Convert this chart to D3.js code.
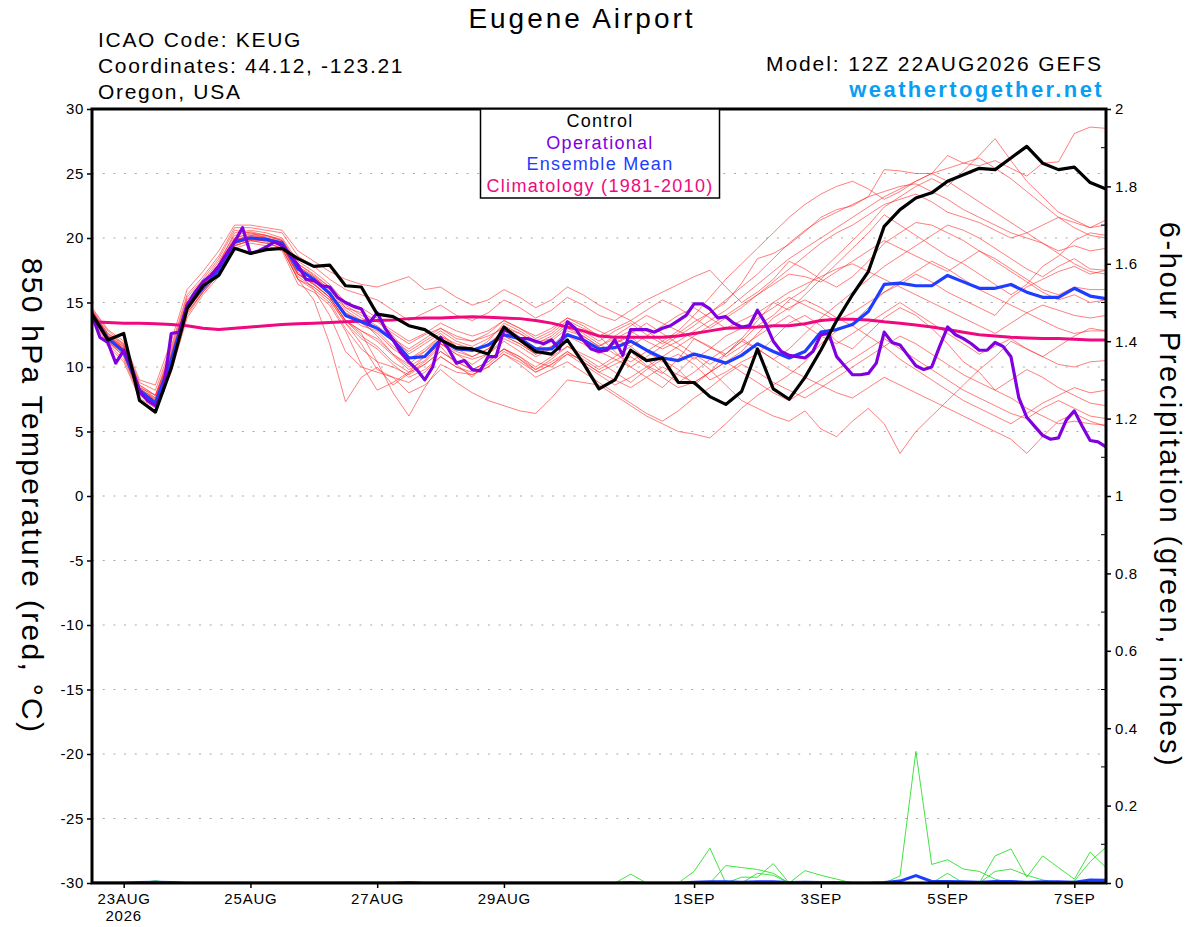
<!DOCTYPE html>
<html>
<head>
<meta charset="utf-8">
<script src="https://cdn.jsdelivr.net/npm/d3@7"></script>
<style>
  body { margin: 0; background: #fff; }
  svg text { font-family: "Liberation Sans", Arial, Helvetica, sans-serif; }
</style>
</head>
<body>
<div id="chart"></div>
<script>
// ---- Axis ticks ----
const tempTicks = [-30, -25, -20, -15, -10, -5, 0, 5, 10, 15, 20, 25, 30];
const gridTicks = [-25, -20, -15, -10, -5, 0, 5, 10, 15, 20, 25];
const precipTicks = [0, 0.2, 0.4, 0.6, 0.8, 1, 1.2, 1.4, 1.6, 1.8, 2];
const precipMinorTicks = [0.1, 0.3, 0.5, 0.7, 0.9, 1.1, 1.3, 1.5, 1.7, 1.9];
const dayTicks = ['2026-08-23', '2026-08-25', '2026-08-27', '2026-08-29',
                  '2026-09-01', '2026-09-03', '2026-09-05', '2026-09-07'];

// ---- 850 hPa temperature, 6-hourly from 12Z 22AUG (65 steps) ----
const control = [
  14.1, 12.1, 12.6, 7.4, 6.5, 9.9, 14.5, 16.3, 17.1, 19.2,
  18.8, 19.1, 19.2, 18.4, 17.8, 17.9, 16.3, 16.2, 14.1, 13.9,
  13.2, 12.9, 12.1, 11.5, 11.4, 11.0, 13.1, 12.1, 11.2, 11.0,
  12.1, 10.3, 8.3, 9.0, 11.3, 10.5, 10.7, 8.8, 8.8, 7.7,
  7.1, 8.1, 11.4, 8.3, 7.5, 9.2, 11.3, 13.6, 15.6, 17.4,
  20.9, 22.2, 23.1, 23.5, 24.4, 24.9, 25.4, 25.3, 26.2, 27.1,
  25.8, 25.3, 25.5, 24.3, 23.8
];

const ensembleMean = [
  14.1, 12.2, 11.2, 8.2, 7.2, 10.5, 14.7, 16.1, 17.5, 19.7,
  20.0, 19.9, 19.6, 17.6, 16.8, 15.7, 14.0, 13.5, 13.0, 12.1,
  10.7, 10.8, 12.1, 11.4, 11.3, 11.7, 12.5, 12.2, 11.4, 11.4,
  12.5, 12.1, 11.4, 11.5, 12.0, 11.3, 10.7, 10.5, 11.0, 10.7,
  10.3, 10.9, 11.8, 11.2, 10.7, 11.2, 12.7, 12.9, 13.3, 14.3,
  16.4, 16.5, 16.3, 16.3, 17.1, 16.6, 16.1, 16.1, 16.4, 15.8,
  15.4, 15.4, 16.1, 15.5, 15.3
];

const climatology = [
  13.5, 13.45, 13.4, 13.4, 13.35, 13.3, 13.2, 13.0, 12.9, 13.0,
  13.1, 13.2, 13.3, 13.35, 13.4, 13.45, 13.5, 13.55, 13.6, 13.65,
  13.75, 13.8, 13.8, 13.85, 13.9, 13.85, 13.8, 13.75, 13.6, 13.4,
  13.1, 12.8, 12.4, 12.3, 12.3, 12.3, 12.3, 12.4, 12.6, 12.8,
  13.0, 13.05, 13.1, 13.2, 13.2, 13.35, 13.6, 13.7, 13.7, 13.65,
  13.5, 13.4, 13.25, 13.1, 12.9, 12.7, 12.5, 12.4, 12.3, 12.25,
  12.2, 12.2, 12.15, 12.1, 12.1
];

// operational run is 3-hourly (129 steps)
const operational = [
  14.0, 12.3, 11.9, 10.3, 11.3, 10.0, 8.1, 7.4, 7.0, 8.2,
  12.6, 12.7, 14.8, 15.8, 16.6, 17.1, 17.8, 18.8, 19.7, 20.8,
  18.8, 19.0, 19.3, 19.7, 19.4, 18.7, 17.9, 16.8, 16.7, 16.3,
  16.2, 15.4, 15.0, 14.7, 14.5, 13.4, 14.2, 13.0, 12.1, 11.1,
  10.4, 9.8, 9.0, 10.0, 12.3, 11.4, 10.3, 10.5, 9.8, 9.7,
  10.8, 10.8, 12.9, 12.6, 12.2, 12.2, 12.0, 11.8, 12.1, 11.4,
  13.5, 13.0, 12.1, 11.4, 11.2, 11.3, 12.1, 10.9, 12.9, 12.9,
  12.9, 12.7, 13.0, 13.2, 13.6, 14.0, 14.9, 14.9, 14.5, 13.8,
  13.9, 13.4, 13.1, 13.2, 14.4, 13.4, 12.0, 11.2, 10.9, 10.8,
  10.7, 11.2, 12.5, 12.6, 10.8, 10.1, 9.4, 9.4, 9.5, 10.3,
  12.7, 11.9, 11.7, 10.9, 10.1, 9.8, 10.0, 11.6, 13.1, 12.5,
  12.2, 11.8, 11.3, 11.3, 11.9, 11.6, 10.8, 7.6, 6.1, 5.4,
  4.7, 4.4, 4.5, 5.9, 6.6, 5.4, 4.3, 4.2, 3.8
];

// ensemble members (6-hourly, 65 steps each)
const member01 = [
  14.4, 12.6, 11.8, 8.3, 7.6, 11.2, 15.2, 16.6, 18.2, 20.2, 20.5, 20.2, 19.8, 18.0, 17.1, 16.2,
  14.8, 14.0, 13.5, 12.6, 11.8, 12.5, 13.0, 12.2, 12.0, 12.4, 13.0, 12.6, 11.9, 12.2, 13.2, 12.8,
  12.0, 12.8, 13.4, 12.5, 11.8, 12.6, 13.5, 14.2, 15.0, 16.5, 18.4, 18.8, 19.5, 20.5, 21.6, 22.2,
  22.5, 23.2, 25.3, 25.2, 25.0, 25.0, 26.4, 25.8, 25.6, 26.0, 25.4, 24.8, 25.8, 25.9, 28.1, 28.6, 28.5
];
const member02 = [
  14.2, 12.0, 11.0, 8.0, 7.0, 10.2, 14.4, 16.0, 17.6, 19.8, 20.2, 20.0, 19.5, 17.2, 16.5, 15.4,
  13.6, 12.8, 12.0, 10.9, 9.8, 10.5, 11.8, 11.0, 10.6, 11.0, 12.0, 11.2, 10.4, 10.0, 11.0, 10.6,
  9.8, 10.5, 11.2, 10.1, 9.5, 10.6, 12.2, 11.5, 11.0, 12.0, 13.2, 14.0, 15.2, 16.0, 17.4, 18.6,
  19.8, 21.0, 22.4, 23.2, 24.0, 24.6, 24.0, 25.2, 26.4, 27.7, 26.0, 24.4, 23.2, 22.0, 21.4, 20.8, 21.4
];
const member03 = [
  14.0, 11.8, 10.6, 7.8, 7.0, 9.8, 14.0, 15.8, 17.2, 19.5, 20.0, 19.7, 19.2, 16.8, 15.2, 11.8,
  7.3, 9.2, 10.0, 8.6, 9.5, 10.4, 11.6, 10.2, 9.2, 10.6, 11.4, 10.8, 9.8, 10.6, 11.6, 11.0,
  10.4, 9.6, 8.8, 9.8, 10.6, 9.8, 8.6, 9.6, 11.0, 12.2, 13.6, 15.0, 14.4, 15.6, 16.8, 18.0,
  19.2, 20.4, 21.8, 21.0, 20.2, 19.4, 18.6, 18.0, 17.2, 16.4, 15.6, 16.4, 17.8, 18.6, 19.8, 20.4, 20.2
];
const member04 = [
  14.3, 12.3, 11.4, 8.4, 7.4, 10.6, 14.8, 16.2, 17.8, 19.9, 20.1, 19.8, 19.6, 17.6, 16.8, 15.8,
  14.2, 13.6, 12.4, 11.0, 10.2, 11.2, 12.4, 11.8, 11.4, 11.6, 12.8, 12.0, 11.0, 11.4, 12.6, 12.0,
  11.2, 11.8, 12.4, 11.2, 10.4, 11.0, 10.2, 9.0, 9.6, 10.4, 11.0, 12.2, 13.4, 14.0, 13.2, 12.0,
  11.4, 12.6, 13.8, 14.6, 14.0, 13.0, 11.8, 10.4, 9.6, 8.2, 7.6, 6.8, 6.2, 5.6, 5.8, 5.6, 5.5
];
const member05 = [
  14.1, 12.4, 11.6, 8.6, 7.8, 11.0, 15.0, 16.4, 18.0, 20.4, 20.6, 20.4, 20.0, 18.2, 17.4, 16.4,
  15.0, 14.6, 13.8, 12.4, 11.0, 11.8, 12.6, 11.6, 11.2, 12.0, 13.4, 12.8, 12.0, 12.6, 13.6, 13.0,
  12.4, 11.2, 10.0, 9.2, 8.4, 9.6, 10.8, 9.8, 8.6, 7.4, 6.8, 6.2, 5.8, 6.6, 5.2, 4.6,
  5.8, 6.8, 5.6, 3.3, 5.0, 6.2, 7.4, 8.6, 9.8, 10.8, 12.0, 11.4, 10.8, 11.6, 12.4, 13.0, 12.8
];
const member06 = [
  14.0, 12.1, 11.2, 8.1, 7.2, 10.4, 14.6, 16.2, 17.6, 19.6, 19.9, 19.9, 19.7, 17.4, 16.0, 14.0,
  11.2, 10.0, 9.6, 9.2, 8.0, 8.6, 9.8, 8.8, 8.0, 7.4, 7.0, 6.6, 6.4, 7.6, 9.0, 8.8,
  8.6, 7.8, 7.0, 6.2, 5.6, 5.0, 4.8, 4.5, 5.6, 6.8, 7.8, 8.6, 9.4, 10.4, 11.8, 12.8,
  13.4, 14.6, 15.8, 16.4, 17.2, 16.6, 15.8, 15.2, 14.6, 14.0, 15.4, 16.2, 16.8, 17.4, 17.8, 17.2, 17.5
];
const member07 = [
  14.5, 12.8, 11.8, 8.8, 8.2, 11.6, 15.6, 17.0, 18.6, 20.8, 20.8, 20.6, 20.4, 18.6, 17.8, 16.8,
  16.0, 15.6, 15.2, 14.4, 13.6, 14.2, 14.8, 14.0, 13.6, 14.2, 15.2, 14.6, 13.8, 14.4, 15.4, 14.8,
  14.0, 13.6, 14.4, 15.2, 15.8, 16.4, 17.0, 17.5, 16.2, 15.0, 15.8, 16.8, 18.2, 17.6, 16.8, 16.2,
  17.0, 18.2, 19.6, 20.4, 21.2, 21.0, 20.4, 19.8, 19.0, 18.2, 17.4, 16.6, 15.8, 15.2, 15.6, 15.0, 15.2
];
const member08 = [
  14.6, 12.9, 12.0, 9.0, 8.6, 12.0, 16.0, 17.4, 19.0, 21.0, 21.0, 20.8, 20.6, 19.0, 18.2, 17.4,
  16.8, 16.4, 16.2, 16.6, 17.0, 16.0, 16.2, 15.4, 14.8, 15.2, 16.0, 15.4, 14.6, 15.2, 16.2, 15.6,
  14.8, 14.2, 13.6, 14.4, 15.2, 14.6, 13.8, 13.0, 13.8, 14.6, 15.6, 16.6, 17.6, 18.6, 19.6, 20.4,
  21.0, 21.8, 22.6, 23.0, 23.4, 22.8, 22.0, 21.6, 21.2, 20.6, 20.0, 20.4, 21.0, 21.6, 21.2, 20.8, 21.0
];
const member09 = [
  14.2, 12.2, 11.3, 8.2, 7.4, 10.6, 14.6, 16.0, 17.4, 19.4, 19.8, 19.8, 19.4, 17.0, 16.2, 15.2,
  13.4, 11.8, 9.8, 9.2, 8.8, 9.6, 10.8, 10.0, 9.6, 10.2, 11.2, 10.6, 9.6, 10.2, 11.2, 10.4,
  9.6, 10.2, 10.8, 10.0, 9.2, 8.4, 8.8, 9.6, 10.4, 11.2, 12.6, 13.8, 14.6, 15.2, 14.6, 13.8,
  13.2, 12.4, 11.6, 10.6, 9.8, 9.0, 8.2, 7.4, 6.8, 6.2, 5.6, 6.4, 7.2, 7.8, 8.4, 8.0, 8.2
];
const member10 = [
  14.3, 12.5, 11.6, 8.5, 7.6, 10.8, 14.8, 16.2, 17.8, 19.8, 20.2, 20.1, 19.8, 17.8, 17.0, 16.0,
  14.4, 13.6, 13.0, 12.0, 11.2, 12.0, 12.8, 12.0, 11.6, 12.2, 13.2, 12.6, 11.8, 12.4, 13.4, 12.6,
  11.8, 11.0, 10.4, 11.2, 12.0, 11.4, 10.6, 11.4, 12.4, 13.0, 13.8, 14.6, 15.4, 14.8, 14.2, 13.6,
  14.2, 15.0, 15.8, 16.6, 17.4, 18.2, 17.6, 16.8, 16.0, 15.4, 14.8, 14.2, 13.6, 13.0, 12.6, 12.8, 12.8
];
const member11 = [
  13.9, 11.6, 10.4, 7.6, 6.8, 9.6, 13.8, 15.6, 17.0, 19.2, 19.6, 19.4, 19.0, 16.4, 15.8, 14.8,
  12.8, 10.2, 8.2, 8.8, 9.6, 10.8, 11.8, 11.0, 10.2, 11.0, 12.2, 11.6, 10.8, 11.4, 12.4, 11.8,
  11.0, 11.8, 12.6, 13.4, 12.6, 11.8, 11.0, 10.2, 11.0, 12.0, 11.4, 10.6, 11.4, 12.6, 13.8, 14.8,
  15.8, 16.8, 17.8, 18.6, 19.4, 20.2, 21.0, 20.6, 20.0, 19.2, 18.4, 17.6, 17.0, 17.8, 18.4, 17.6, 17.5
];
const member12 = [
  14.4, 12.4, 11.4, 8.4, 7.8, 11.4, 15.4, 16.8, 18.4, 20.6, 20.4, 20.0, 19.6, 17.6, 16.8, 15.8,
  14.0, 13.2, 12.8, 11.6, 10.6, 11.2, 12.2, 11.4, 10.8, 11.4, 12.4, 11.8, 11.0, 11.6, 12.8, 12.4,
  11.6, 12.4, 13.2, 14.0, 13.4, 12.8, 12.2, 11.6, 10.8, 11.6, 12.4, 13.2, 14.0, 13.2, 12.4, 11.8,
  12.6, 13.4, 14.2, 15.0, 14.2, 13.4, 12.6, 11.8, 11.0, 11.6, 12.2, 11.4, 10.8, 10.2, 10.0, 10.4, 10.5
];
const member13 = [
  14.2, 12.3, 11.4, 8.2, 7.2, 10.4, 14.6, 16.0, 17.6, 19.6, 19.9, 19.8, 19.4, 17.2, 16.4, 15.4,
  13.6, 12.8, 12.2, 11.0, 10.0, 10.8, 11.8, 11.2, 10.8, 11.4, 12.4, 11.8, 11.0, 11.6, 12.6, 12.0,
  11.2, 10.6, 10.0, 10.8, 11.6, 12.4, 13.2, 14.2, 15.2, 16.2, 17.2, 18.4, 19.6, 20.6, 21.4, 22.0,
  22.6, 23.2, 23.6, 24.0, 24.2, 23.6, 23.0, 22.2, 21.6, 21.0, 20.4, 20.0, 19.6, 19.0, 19.4, 19.0, 19.2
];
const member14 = [
  14.1, 12.0, 10.8, 7.9, 7.0, 10.0, 14.2, 15.8, 17.2, 19.4, 19.8, 19.6, 19.2, 16.8, 16.0, 15.0,
  13.0, 11.4, 10.4, 10.0, 9.4, 10.2, 11.2, 10.4, 9.8, 10.4, 11.4, 10.8, 10.0, 10.8, 11.6, 10.8,
  10.0, 10.8, 11.6, 10.6, 9.6, 8.8, 9.6, 10.6, 11.4, 12.2, 11.4, 10.6, 9.8, 9.2, 8.6, 8.0,
  7.6, 8.4, 9.2, 8.6, 8.0, 7.4, 6.8, 6.2, 5.6, 5.0, 4.4, 3.3, 4.6, 5.8, 6.4, 5.8, 5.4
];
const member15 = [
  14.3, 12.4, 11.4, 8.2, 7.4, 10.8, 15.0, 16.4, 18.0, 20.0, 20.3, 20.2, 19.9, 18.0, 17.2, 16.2,
  14.6, 13.8, 13.2, 12.2, 11.4, 12.2, 13.0, 12.4, 12.0, 12.6, 13.6, 13.0, 12.2, 12.8, 13.8, 13.2,
  12.4, 13.0, 13.6, 12.8, 12.0, 12.8, 14.0, 15.4, 16.8, 18.0, 19.2, 20.4, 21.6, 22.6, 23.4, 24.0,
  24.4, 23.8, 23.0, 23.6, 24.4, 25.0, 24.4, 23.6, 22.8, 22.0, 21.2, 20.4, 19.6, 18.8, 18.0, 17.4, 17.2
];
const member16 = [
  14.0, 11.9, 10.9, 7.9, 7.0, 10.0, 14.2, 15.8, 17.2, 19.4, 19.8, 19.6, 19.2, 16.8, 16.2, 15.2,
  13.4, 12.2, 11.4, 10.2, 9.2, 9.8, 10.8, 10.0, 9.4, 10.0, 11.0, 10.4, 9.6, 10.2, 11.0, 10.2,
  9.4, 8.6, 9.2, 10.0, 10.8, 11.6, 12.4, 13.2, 14.0, 14.8, 15.6, 16.4, 17.2, 17.0, 16.6, 17.4,
  18.2, 19.0, 19.8, 19.2, 18.6, 18.0, 17.4, 18.2, 19.0, 18.4, 17.6, 16.8, 16.0, 15.6, 16.2, 16.0, 16.0
];
const member17 = [
  14.2, 12.1, 11.0, 8.0, 7.1, 10.2, 14.4, 15.9, 17.4, 19.6, 20.0, 19.8, 19.4, 17.2, 16.4, 15.4,
  13.6, 12.6, 10.4, 8.0, 6.2, 8.4, 10.2, 9.6, 9.4, 10.0, 11.0, 10.2, 9.2, 9.8, 10.4, 9.6,
  8.8, 8.0, 7.2, 6.4, 5.8, 6.6, 7.6, 8.4, 9.4, 10.2, 9.6, 8.8, 8.2, 7.6, 8.4, 9.2,
  10.0, 10.8, 11.6, 12.4, 11.8, 11.0, 10.2, 9.4, 8.8, 8.2, 9.0, 9.8, 9.2, 8.4, 7.8, 7.2, 7.0
];
const member18 = [
  14.4, 12.6, 11.7, 8.6, 7.8, 11.0, 15.0, 16.4, 18.0, 20.0, 20.4, 20.2, 19.8, 17.8, 17.0, 16.0,
  14.6, 14.2, 13.6, 12.8, 12.0, 12.6, 13.4, 12.8, 12.4, 12.8, 13.6, 13.0, 12.4, 13.0, 13.8, 13.4,
  12.8, 12.2, 11.6, 12.4, 13.2, 14.0, 14.6, 13.8, 13.0, 13.6, 14.2, 15.0, 15.8, 16.4, 17.0, 17.6,
  18.0, 17.4, 16.8, 16.2, 15.6, 15.0, 14.4, 13.8, 13.2, 12.6, 13.4, 14.2, 14.8, 14.4, 14.0, 13.8, 14.0
];
const member19 = [
  14.3, 12.4, 11.5, 8.3, 7.5, 10.8, 14.9, 16.3, 17.9, 19.8, 20.1, 20.0, 19.7, 17.6, 16.8, 15.8,
  14.2, 13.4, 12.6, 11.4, 10.6, 11.4, 12.4, 11.6, 11.2, 11.8, 12.8, 12.2, 11.4, 12.0, 13.0, 12.4,
  11.6, 12.2, 12.8, 12.0, 11.4, 12.0, 12.8, 13.6, 14.4, 15.4, 16.4, 17.4, 18.4, 19.2, 20.0, 20.8,
  21.6, 22.4, 23.2, 23.8, 24.4, 25.0, 25.4, 25.8, 26.2, 25.4, 24.6, 23.6, 22.6, 21.6, 20.8, 20.2, 20.0
];
const member20 = [
  14.1, 12.2, 11.2, 8.1, 7.2, 10.4, 14.6, 16.0, 17.6, 19.6, 20.0, 19.8, 19.4, 17.2, 16.4, 15.4,
  13.6, 12.4, 11.6, 10.4, 9.6, 10.2, 11.2, 10.4, 9.8, 10.4, 11.4, 10.6, 9.8, 10.4, 11.2, 10.4,
  9.6, 9.0, 8.4, 9.2, 10.0, 9.4, 8.8, 9.6, 10.4, 9.6, 8.8, 8.0, 7.4, 8.2, 9.0, 9.8,
  10.6, 11.4, 12.2, 11.4, 10.6, 9.8, 9.0, 8.2, 7.6, 7.0, 6.4, 6.0, 6.8, 7.4, 6.8, 6.2, 6.0
];
const members = [member01, member02, member03, member04, member05, member06, member07,
  member08, member09, member10, member11, member12, member13, member14, member15,
  member16, member17, member18, member19, member20];

// ---- 6-hour precipitation (inches), members with any rain ----
const precip01 = [
  0, 0, 0, 0, 0.006, 0, 0, 0, 0, 0, 0, 0, 0,
  0, 0, 0, 0, 0, 0, 0, 0.003, 0, 0, 0, 0, 0,
  0, 0, 0, 0, 0, 0, 0, 0, 0.023, 0, 0, 0, 0,
  0, 0, 0, 0, 0, 0, 0, 0, 0, 0, 0, 0, 0,
  0, 0, 0, 0, 0, 0, 0, 0, 0, 0, 0, 0, 0
];
const precip02 = [
  0, 0, 0, 0, 0, 0, 0, 0, 0, 0, 0, 0, 0,
  0, 0, 0, 0, 0, 0, 0, 0, 0, 0, 0, 0, 0,
  0, 0, 0, 0, 0, 0, 0, 0, 0, 0, 0, 0, 0.03,
  0.09, 0, 0, 0, 0, 0, 0, 0, 0, 0, 0, 0, 0,
  0, 0, 0, 0, 0, 0, 0, 0, 0, 0, 0, 0, 0
];
const precip03 = [
  0, 0, 0, 0, 0, 0, 0, 0, 0, 0, 0, 0, 0,
  0, 0, 0, 0, 0, 0, 0, 0, 0, 0, 0, 0, 0,
  0, 0, 0, 0, 0, 0, 0, 0, 0, 0, 0, 0, 0,
  0, 0.045, 0.04, 0.035, 0.025, 0, 0, 0, 0, 0, 0, 0, 0,
  0, 0, 0, 0, 0, 0, 0, 0, 0, 0, 0, 0, 0
];
const precip04 = [
  0, 0, 0, 0, 0, 0, 0, 0, 0, 0, 0, 0, 0,
  0, 0, 0, 0, 0, 0, 0, 0, 0, 0, 0, 0, 0,
  0, 0, 0, 0, 0, 0, 0, 0, 0, 0, 0, 0, 0,
  0, 0, 0.015, 0.015, 0.05, 0, 0, 0, 0, 0, 0, 0, 0,
  0, 0, 0.025, 0, 0, 0, 0, 0, 0, 0, 0, 0, 0
];
const precip05 = [
  0, 0, 0, 0, 0, 0, 0, 0, 0, 0, 0, 0, 0,
  0, 0, 0, 0, 0, 0, 0, 0, 0, 0, 0, 0, 0,
  0, 0, 0, 0, 0, 0, 0, 0, 0, 0, 0, 0, 0,
  0, 0, 0, 0.025, 0.02, 0, 0.032, 0.02, 0.01, 0, 0, 0, 0,
  0, 0, 0, 0, 0, 0, 0, 0, 0, 0, 0, 0, 0
];
const precip06 = [
  0, 0, 0, 0, 0, 0, 0, 0, 0, 0, 0, 0, 0,
  0, 0, 0, 0, 0, 0, 0, 0, 0, 0, 0, 0, 0,
  0, 0, 0, 0, 0, 0, 0, 0, 0, 0, 0, 0, 0,
  0, 0, 0, 0, 0, 0, 0, 0, 0, 0, 0, 0, 0.018,
  0.34, 0.048, 0.06, 0.036, 0.03, 0.01, 0, 0, 0, 0, 0, 0, 0
];
const precip07 = [
  0, 0, 0, 0, 0, 0, 0, 0, 0, 0, 0, 0, 0,
  0, 0, 0, 0, 0, 0, 0, 0, 0, 0, 0, 0, 0,
  0, 0, 0, 0, 0, 0, 0, 0, 0, 0, 0, 0, 0,
  0, 0, 0, 0, 0, 0, 0, 0, 0, 0, 0, 0, 0,
  0, 0, 0, 0, 0, 0.07, 0.088, 0.015, 0.07, 0.04, 0.01, 0.08, 0.04
];
const precip08 = [
  0, 0, 0, 0, 0, 0, 0, 0, 0, 0, 0, 0, 0,
  0, 0, 0, 0, 0, 0, 0, 0, 0, 0, 0, 0, 0,
  0, 0, 0, 0, 0, 0, 0, 0, 0, 0, 0, 0, 0,
  0, 0, 0, 0, 0, 0, 0, 0, 0, 0, 0, 0, 0,
  0, 0, 0, 0, 0, 0.03, 0.036, 0.02, 0.008, 0, 0.005, 0.055, 0.093
];
const precipMembers = [precip01, precip02, precip03, precip04, precip05, precip06, precip07, precip08];

const precipMean = [
  0, 0, 0, 0.001, 0.002, 0.001, 0, 0, 0, 0, 0, 0, 0,
  0, 0, 0, 0, 0, 0, 0, 0.001, 0, 0, 0, 0, 0,
  0, 0, 0, 0, 0, 0, 0, 0, 0.001, 0, 0, 0, 0.002,
  0.003, 0.003, 0.002, 0.003, 0.003, 0.001, 0.002, 0.001, 0.001, 0, 0, 0.001, 0.005,
  0.019, 0.004, 0.004, 0.003, 0.002, 0.004, 0.004, 0.002, 0.003, 0.003, 0.002, 0.008, 0.007
];

// ---- Layout ----
const width = 1200;
const height = 927;
const plot = { left: 92, right: 1106, top: 109, bottom: 883 };

const runStart = Date.UTC(2026, 7, 22, 12);
const times6 = members[0].map((d, i) => new Date(runStart + i * 6 * 3600e3));
const times3 = operational.map((d, i) => new Date(runStart + i * 3 * 3600e3));

const x = d3.scaleUtc()
  .domain([times6[0], times6[times6.length - 1]])
  .range([plot.left, plot.right]);
const yTemp = d3.scaleLinear().domain([-30, 30]).range([plot.bottom, plot.top]);
const yPrecip = d3.scaleLinear().domain([0, 2]).range([plot.bottom, plot.top]);

const svg = d3.select('#chart')
  .append('svg')
  .attr('width', width)
  .attr('height', height)
  .attr('viewBox', [0, 0, width, height]);

svg.append('defs').append('clipPath')
  .attr('id', 'plot-clip')
  .append('rect')
  .attr('x', plot.left)
  .attr('y', plot.top - 2)
  .attr('width', plot.right - plot.left)
  .attr('height', plot.bottom - plot.top + 2);

// Dotted grid
svg.append('g')
  .selectAll('line')
  .data(gridTicks)
  .join('line')
  .attr('x1', plot.left)
  .attr('x2', plot.right)
  .attr('y1', d => yTemp(d))
  .attr('y2', d => yTemp(d))
  .attr('stroke', '#a8a8a8')
  .attr('stroke-width', 1.2)
  .attr('stroke-dasharray', '2,8.7');

const lines = svg.append('g').attr('clip-path', 'url(#plot-clip)');

const tempLine6 = d3.line().x((d, i) => x(times6[i])).y(d => yTemp(d));
const tempLine3 = d3.line().x((d, i) => x(times3[i])).y(d => yTemp(d));
const precipLine = d3.line().x((d, i) => x(times6[i])).y(d => yPrecip(d));

// Ensemble members (red spaghetti)
lines.append('g')
  .selectAll('path')
  .data(members)
  .join('path')
  .attr('d', tempLine6)
  .attr('fill', 'none')
  .attr('stroke', '#ff2a2a')
  .attr('stroke-opacity', 0.6)
  .attr('stroke-width', 1);

// Precipitation members (green)
lines.append('g')
  .selectAll('path')
  .data(precipMembers)
  .join('path')
  .attr('d', precipLine)
  .attr('fill', 'none')
  .attr('stroke', '#22dd22')
  .attr('stroke-opacity', 0.85)
  .attr('stroke-width', 1);

lines.append('path')
  .attr('d', precipLine(precipMean))
  .attr('fill', 'none')
  .attr('stroke', '#1f3dff')
  .attr('stroke-width', 3);

// Main series
const mainSeries = [
  { values: climatology, line: tempLine6, color: '#f0087e', w: 3 },
  { values: ensembleMean, line: tempLine6, color: '#1f3dff', w: 3.2 },
  { values: operational, line: tempLine3, color: '#8000e0', w: 3.2 },
  { values: control, line: tempLine6, color: '#000000', w: 3.2 }
];
lines.append('g')
  .selectAll('path')
  .data(mainSeries)
  .join('path')
  .attr('d', d => d.line(d.values))
  .attr('fill', 'none')
  .attr('stroke', d => d.color)
  .attr('stroke-width', d => d.w)
  .attr('stroke-linejoin', 'round');

// Left axis (temperature)
const leftAxis = svg.append('g')
  .attr('transform', `translate(${plot.left},0)`)
  .call(d3.axisLeft(yTemp).tickValues(tempTicks).tickSize(5).tickPadding(3)
    .tickFormat(d => String(d)));
leftAxis.select('.domain').remove();
leftAxis.selectAll('line').attr('stroke-width', 1.5);
leftAxis.selectAll('text').attr('font-size', 15).attr('letter-spacing', 0.6).attr('fill', '#000');

// Right axis (precipitation)
const rightAxis = svg.append('g')
  .attr('transform', `translate(${plot.right},0)`)
  .call(d3.axisRight(yPrecip).tickValues(precipTicks).tickSize(5).tickPadding(4)
    .tickFormat(d => String(d)));
rightAxis.select('.domain').remove();
rightAxis.selectAll('line').attr('stroke-width', 1.5);
rightAxis.selectAll('text').attr('font-size', 15).attr('letter-spacing', 0.6).attr('fill', '#000');

svg.append('g')
  .selectAll('line')
  .data(precipMinorTicks)
  .join('line')
  .attr('x1', plot.right - 5)
  .attr('x2', plot.right)
  .attr('y1', d => yPrecip(d))
  .attr('y2', d => yPrecip(d))
  .attr('stroke', '#000')
  .attr('stroke-width', 1);

// Bottom axis (dates)
const dateFmt = d3.utcFormat('%-d%b');
const bottomAxis = svg.append('g')
  .attr('transform', `translate(0,${plot.bottom})`)
  .call(d3.axisBottom(x).tickValues(dayTicks.map(d => new Date(d + 'T00:00:00Z')))
    .tickSize(5).tickPadding(5)
    .tickFormat(d => dateFmt(d).toUpperCase()));
bottomAxis.select('.domain').remove();
bottomAxis.selectAll('line').attr('stroke-width', 1.5);
bottomAxis.selectAll('text').attr('font-size', 15).attr('letter-spacing', 0.8).attr('fill', '#000');

svg.append('text')
  .attr('x', x(new Date(dayTicks[0] + 'T00:00:00Z')))
  .attr('y', 921)
  .attr('text-anchor', 'middle')
  .attr('font-size', 15)
  .attr('letter-spacing', 0.8)
  .text('2026');

// Plot frame
svg.append('rect')
  .attr('x', plot.left)
  .attr('y', plot.top)
  .attr('width', plot.right - plot.left)
  .attr('height', plot.bottom - plot.top)
  .attr('fill', 'none')
  .attr('stroke', '#000')
  .attr('stroke-width', 3);

// Legend box
const legendItems = [
  { label: 'Control', color: '#000000' },
  { label: 'Operational', color: '#8000e0' },
  { label: 'Ensemble Mean', color: '#1f3dff' },
  { label: 'Climatology (1981-2010)', color: '#f0087e' }
];
svg.append('rect')
  .attr('x', 480.5)
  .attr('y', plot.top)
  .attr('width', 239)
  .attr('height', 89)
  .attr('fill', '#fff')
  .attr('stroke', '#000')
  .attr('stroke-width', 1.5);
svg.append('g')
  .selectAll('text')
  .data(legendItems)
  .join('text')
  .attr('x', 600)
  .attr('y', (d, i) => 127 + i * 21.5)
  .attr('text-anchor', 'middle')
  .attr('font-size', 18)
  .attr('letter-spacing', 1.3)
  .attr('fill', d => d.color)
  .text(d => d.label);

// Titles and header text
svg.append('text')
  .attr('x', 582).attr('y', 28)
  .attr('text-anchor', 'middle')
  .attr('font-size', 28)
  .attr('letter-spacing', 3)
  .text('Eugene Airport');

const infoLines = ['ICAO Code: KEUG', 'Coordinates: 44.12, -123.21', 'Oregon, USA'];
svg.append('g')
  .selectAll('text')
  .data(infoLines)
  .join('text')
  .attr('x', 98)
  .attr('y', (d, i) => 47 + i * 26)
  .attr('font-size', 21)
  .attr('letter-spacing', 1.7)
  .text(d => d);

svg.append('text')
  .attr('x', 1103).attr('y', 71)
  .attr('text-anchor', 'end')
  .attr('font-size', 21)
  .attr('letter-spacing', 1.9)
  .text('Model: 12Z 22AUG2026 GEFS');

svg.append('text')
  .attr('x', 1104).attr('y', 97)
  .attr('text-anchor', 'end')
  .attr('font-size', 22)
  .attr('font-weight', 'bold')
  .attr('letter-spacing', 2.4)
  .attr('fill', '#0a9ef2')
  .text('weathertogether.net');

// Axis titles
svg.append('text')
  .attr('transform', 'translate(22,496) rotate(90)')
  .attr('text-anchor', 'middle')
  .attr('font-size', 30)
  .attr('letter-spacing', 2.3)
  .text('850 hPa Temperature (red, °C)');

svg.append('text')
  .attr('transform', 'translate(1160,495) rotate(90)')
  .attr('text-anchor', 'middle')
  .attr('font-size', 29)
  .attr('letter-spacing', 2.6)
  .text('6-hour Precipitation (green, inches)');
</script>
</body>
</html>
